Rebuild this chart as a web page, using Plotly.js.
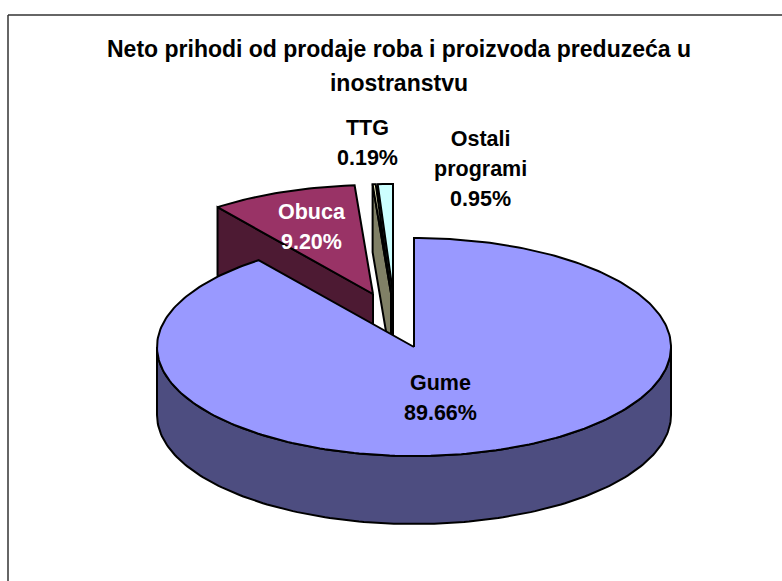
<!DOCTYPE html>
<html><head><meta charset="utf-8">
<script src="https://cdn.plot.ly/plotly-3.0.1.min.js"></script>
<style>html,body{margin:0;padding:0;background:#fff}#c{width:782px;height:581px}</style>
</head><body><div id="c"></div>
<script>
var titleLines = ['Neto prihodi od prodaje roba i proizvoda preduzeća u', 'inostranstvu'];
var categories = ['Gume', 'Obuca', 'TTG', 'Ostali<br>programi'];
var values = [89.66, 9.20, 0.19, 0.95];
var topColors = ['#9999FF', '#993366', '#FFFFCC', '#CCFFFF'];
var wallColors = ['#4D4D80', '#4D1A33', '#808066', '#668080'];
var labelColors = ['#000000', '#FFFFFF', '#000000', '#000000'];
var shiftX = [0, -41, -23, -21];
var shiftY = [0, -53, -54, -54];
var labelX = [440, 312, 367, 480];
var labelY = [398, 227, 143, 169];

var cx = 414, cy = 347, rx = 257, ry = 109, depth = 68;
var total = values.reduce(function (a, b) { return a + b; }, 0);
function px(a, i) { return cx + shiftX[i] + rx * Math.sin(a); }
function py(a, i) { return cy + shiftY[i] - ry * Math.cos(a); }
function poly(xs, ys, fill) {
  return { type: 'scatter', mode: 'lines', x: xs.concat(xs[0]), y: ys.concat(ys[0]),
    fill: 'toself', fillcolor: fill, line: { color: '#000', width: 2 },
    hoverinfo: 'skip', showlegend: false };
}
var starts = [], acc = 0;
values.forEach(function (v) { starts.push(acc / total * 2 * Math.PI); acc += v; });
function sliceTraces(i) {
  var a0 = starts[i], a1 = a0 + values[i] / total * 2 * Math.PI, out = [];
  var ax = cx + shiftX[i], ay = cy + shiftY[i], n, k, a;
  var tx = [ax], ty = [ay];
  n = Math.max(2, Math.ceil((a1 - a0) / 0.02));
  for (k = 0; k <= n; k++) { a = a0 + (a1 - a0) * k / n; tx.push(px(a, i)); ty.push(py(a, i)); }
  if (i === 0) {
    var sx = [], sy = [], lo = Math.PI / 2, hi = 3 * Math.PI / 2;
    for (k = 0; k <= 160; k++) { a = lo + (hi - lo) * k / 160; sx.push(px(a, i)); sy.push(py(a, i)); }
    for (k = 160; k >= 0; k--) { a = lo + (hi - lo) * k / 160; sx.push(px(a, i)); sy.push(py(a, i) + depth); }
    out.push(poly(sx, sy, wallColors[i]));
  } else {
    out.push(poly([ax, px(a0, i), px(a0, i), ax], [ay, py(a0, i), py(a0, i) + depth, ay + depth], wallColors[i]));
  }
  out.push(poly(tx, ty, topColors[i]));
  return out;
}
var traces = [];
[3, 2, 1, 0].forEach(function (i) { traces = traces.concat(sliceTraces(i)); });

var annotations = categories.map(function (c, i) {
  var inner = c.split('<br>').concat(values[i].toFixed(2) + '%').map(function (s) {
    return '<span style="font-size:21.5px"><b>' + s + '</b></span>';
  }).join('<br>');
  return { x: labelX[i], y: labelY[i], xref: 'x', yref: 'y', text: inner, showarrow: false,
    xanchor: 'center', yanchor: 'middle', align: 'center',
    font: { family: 'Liberation Sans, Arial, sans-serif', size: 23, color: labelColors[i] } };
});
var layout = {
  width: 782, height: 581, margin: { l: 0, r: 0, t: 0, b: 0 },
  paper_bgcolor: '#fff', plot_bgcolor: '#fff', showlegend: false,
  xaxis: { range: [0, 782], visible: false, fixedrange: true },
  yaxis: { range: [581, 0], visible: false, fixedrange: true },
  title: {
    text: titleLines.map(function (s) { return '<span style="font-size:23px"><b>' + s + '</b></span>'; }).join('<br>'),
    x: 399 / 782, xanchor: 'center', y: 1 - 57 / 581, yanchor: 'top',
    font: { family: 'Liberation Sans, Arial, sans-serif', size: 26.5, color: '#000' }
  },
  annotations: annotations,
  shapes: [
    { type: 'line', xref: 'x', yref: 'y', x0: 8, x1: 8, y0: 15, y1: 581, line: { color: '#333', width: 1.5 } },
    { type: 'line', xref: 'x', yref: 'y', x0: 8, x1: 782, y0: 15, y1: 15, line: { color: '#333', width: 1.5 } }
  ]
};
Plotly.newPlot('c', traces, layout, { displayModeBar: false, staticPlot: true });
</script></body></html>
